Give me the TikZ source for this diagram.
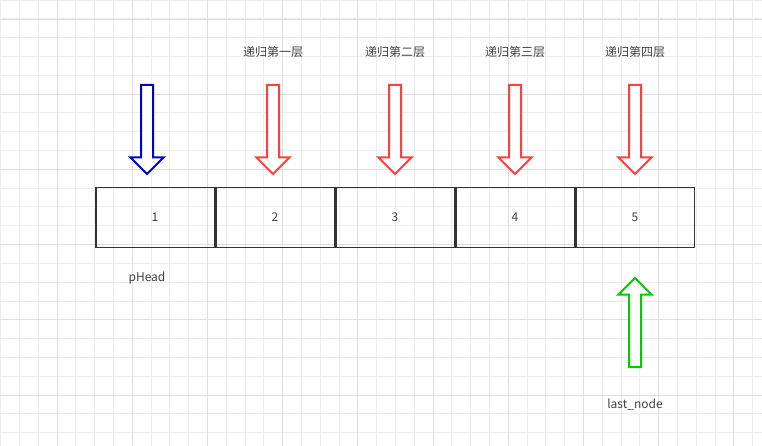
\documentclass[tikz,border=0pt]{standalone}
\usepackage{fontspec}
\setmainfont{Noto Sans CJK SC}
\usetikzlibrary{shapes.arrows,positioning}
\tikzstyle{cell}=[draw=black!80, line width=1.5pt, minimum width=118.5pt, minimum height=60pt, inner sep=0pt, text=black!75, font=\fontsize{12}{14}\selectfont]
\tikzstyle{hollow}=[single arrow, draw, line width=2pt, fill=white, minimum height=89pt, minimum width=32pt, single arrow head extend=10.5pt, single arrow tip angle=90, inner xsep=0pt, inner ysep=5pt, text height=0pt, text depth=0pt]
\tikzstyle{lbl}=[text=black!75, font=\fontsize{12}{14}\selectfont]
\begin{document}
\begin{tikzpicture}[x=1pt,y=-1pt]
\useasboundingbox (0,0) rectangle (762,446);
% grid
\draw[black!7, line width=0.6pt, step=18.8pt, shift={(0.5,0)}] (0,0) grid (762,446);
\draw[black!13, line width=0.8pt, step=75.2pt, shift={(57,19)}] (-57,-19) grid (762,446);

\node (c1) [cell] at (155,217.5) {1};
\node (c2) [cell, right=0pt of c1] {2};
\node (c3) [cell, right=0pt of c2] {3};
\node (c4) [cell, right=0pt of c3] {4};
\node (c5) [cell, right=0pt of c4] {5};

\node (a1) [hollow, draw=blue!80!black, rotate=-90] at (147,126.5) {};
\node (a2) [hollow, draw=red!75, rotate=-90] at (273,126.5) {};
\node (a3) [hollow, draw=red!75, rotate=-90] at (395,126.5) {};
\node (a4) [hollow, draw=red!75, rotate=-90] at (515,126.5) {};
\node (a5) [hollow, draw=red!75, rotate=-90] at (635,126.5) {};
\node (g) [hollow, draw=green!80!black, rotate=90] at (635,325.5) {};

\node (l2) [lbl] at (273,52) {递归第一层};
\node (l3) [lbl] at (395,52) {递归第二层};
\node (l4) [lbl] at (515,52) {递归第三层};
\node (l5) [lbl] at (635,52) {递归第四层};
\node (ph) [lbl] at (147,278) {pHead};
\node (ln) [lbl] at (635,405) {last\_node};
\end{tikzpicture}
\end{document}
